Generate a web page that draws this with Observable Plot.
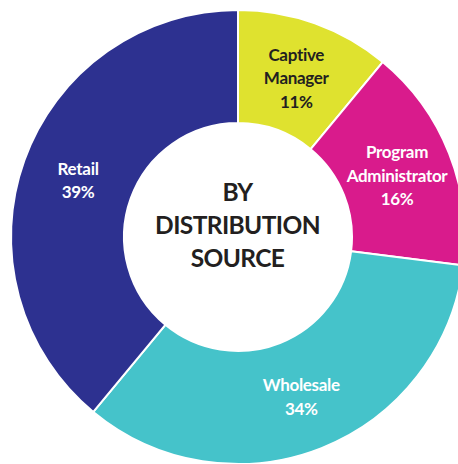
<!DOCTYPE html>
<html><head><meta charset="utf-8">
<script src="https://cdn.jsdelivr.net/npm/d3@7"></script>
<script src="https://cdn.jsdelivr.net/npm/@observablehq/plot@0.6"></script>
<style>body{margin:0;background:#fff;overflow:hidden}</style>
</head><body><div id="chart"></div>
<script>
const categories = ["Captive\nManager", "Program\nAdministrator", "Wholesale", "Retail"];
const values = [11, 16, 34, 39];
const colors = ["#dfe22f", "#d91b8c", "#45c3ca", "#2d3190"];
const labelColors = ["#231f20", "#ffffff", "#ffffff", "#ffffff"];
const centerTitle = ["BY\nDISTRIBUTION\nSOURCE"];

const W = 458, H = 464, cx = 238, cy = 237, outerR = 227, innerR = 114;
const font = "Lato, 'Noto Sans', sans-serif";

const data = categories.map((c, i) => ({category: c, value: values[i], color: colors[i], labelColor: labelColors[i]}));
const pie = d3.pie().value(d => d.value).sort(null);
const arcs = pie(data);
const arcGen = d3.arc().innerRadius(innerR).outerRadius(outerR);
const labels = arcs.map(a => {
  const [x, y] = arcGen.centroid(a);
  return {x: cx + x, y: cy + y - 0.5, text: a.data.category + "\n" + a.data.value + "%", fill: a.data.labelColor};
});

function ring() {
  const g = d3.create("svg:g").attr("transform", `translate(${cx},${cy})`);
  g.selectAll("path").data(arcs).join("path")
    .attr("d", arcGen)
    .attr("fill", d => d.data.color)
    .attr("stroke", "#fff")
    .attr("stroke-width", 2)
    .attr("stroke-linejoin", "round");
  return g.node();
}

const chart = Plot.plot({
  width: W, height: H, margin: 0,
  x: {type: "identity"}, y: {type: "identity"},
  axis: null,
  style: {background: "#fff"},
  marks: [
    ring,
    Plot.text(labels, {x: "x", y: "y", text: "text", fill: "fill", fontSize: 17, fontWeight: "bold", fontFamily: font, lineHeight: 1.38, className: "seglabel"}),
    Plot.text(centerTitle, {x: () => 237, y: () => 223, text: d => d, fill: "#231f20", fontSize: 24.5, fontWeight: "bold", fontFamily: font, lineHeight: 1.33, className: "centerlabel"})
  ]
});
d3.select(chart).selectAll(".seglabel text").style("letter-spacing", "-0.3px");
d3.select(chart).selectAll(".centerlabel text").style("letter-spacing", "-0.6px");
document.getElementById("chart").appendChild(chart);
</script>
</body></html>
